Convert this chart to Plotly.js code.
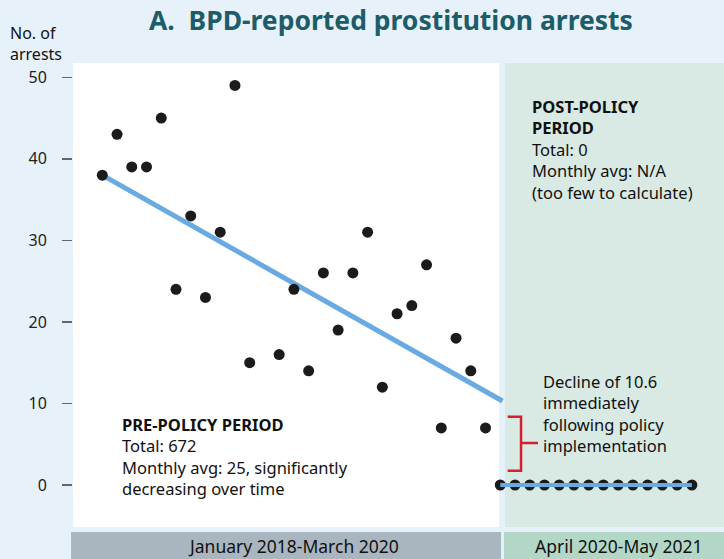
<!DOCTYPE html>
<html>
<head>
<meta charset="utf-8">
<script src="https://cdn.plot.ly/plotly-3.0.1.min.js"></script>
<style>html,body{margin:0;padding:0;background:#e7f1fa;}#chart{width:724px;height:559px;}</style>
</head>
<body>
<div id="chart"></div>
<script>
// Month index 0 = January 2018
const preMonths = [0,1,2,3,4,5,6,7,8,9,10,11,12,13,14,15,16,17,18,19,20,21,22,23,24,25,26];
const preArrests = [38,43,39,39,45,24,33,23,31,49,15,null,16,24,14,26,19,26,31,12,21,22,27,7,18,14,7];
const postMonths = [27,28,29,30,31,32,33,34,35,36,37,38,39,40];
const postArrests = [0,0,0,0,0,0,0,0,0,0,0,0,0,0];
const trendMonths = [0, 27.15];
const trendValues = [38.0, 10.3];
const postTrendMonths = [27, 40];
const postTrendValues = [0, 0];
const yTicks = [0,10,20,30,40,50];
const periodLabels = ["January 2018-March 2020", "April 2020-May 2021"];

const bodyFont = "Noto Sans, sans-serif";
const tickFont = "Noto Sans, sans-serif";
const labelFont = "Noto Sans, sans-serif";

const traces = [
  {x: trendMonths, y: trendValues, mode: 'lines', line: {color: '#6aaae3', width: 5}, hoverinfo: 'skip'},
  {x: preMonths, y: preArrests, mode: 'markers', marker: {color: '#1b1b1b', size: 11}},
  {x: postMonths, y: postArrests, mode: 'markers', marker: {color: '#1b1b1b', size: 11}},
  {x: postTrendMonths, y: postTrendValues, mode: 'lines', line: {color: '#6aaae3', width: 4}}
];

const layout = {
  width: 724, height: 559,
  margin: {l: 73, r: 0, t: 63, b: 32},
  paper_bgcolor: '#e7f1fa',
  plot_bgcolor: '#e7f1fa',
  showlegend: false,
  xaxis: {range: [-1.988, 42.18], visible: false, fixedrange: true},
  yaxis: {
    range: [-5.15, 51.75], tickvals: yTicks, ticks: 'outside', ticklen: 10, tickwidth: 1.5,
    tickcolor: '#666', showgrid: false, zeroline: false, showline: false,
    ticklabelstandoff: 12,
    tickfont: {family: tickFont, size: 16, color: '#222'}
  },
  shapes: [
    {type: 'rect', xref: 'paper', yref: 'paper', x0: 0, x1: 0.6544, y0: 0, y1: 1, fillcolor: '#ffffff', line: {width: 0}, layer: 'below'},
    {type: 'rect', xref: 'paper', yref: 'paper', x0: 0.6636, x1: 1, y0: 0, y1: 1, fillcolor: '#d9e9e3', line: {width: 0}, layer: 'below'},
    {type: 'rect', xref: 'paper', yref: 'paper', x0: -0.003, x1: 0.6575, y0: -0.0108, y1: -0.07, fillcolor: '#a9b6bf', line: {width: 0}},
    {type: 'rect', xref: 'paper', yref: 'paper', x0: 0.6621, x1: 1, y0: -0.0108, y1: -0.07, fillcolor: '#b3d7c7', line: {width: 0}},
    {type: 'path', xref: 'x', yref: 'y', path: 'M 27.5 8.38 L 28.41 8.38 L 28.41 1.75 L 27.5 1.75 M 28.41 5.15 L 29.56 5.15', line: {color: '#d4212f', width: 2.5}}
  ],
  annotations: [
    {xref: 'paper', yref: 'paper', x: 0.489, y: 1.0927, xanchor: 'center', yanchor: 'middle', showarrow: false,
     text: '<b>A.  BPD-reported prostitution arrests</b>', font: {family: labelFont, size: 26.5, color: '#1d5c69'}},
    {xref: 'paper', yref: 'paper', x: -0.1, y: 1.043, xanchor: 'left', yanchor: 'middle', align: 'left', showarrow: false,
     text: 'No. of<br>arrests', font: {family: labelFont, size: 16, color: '#111'}},
    {xref: 'paper', yref: 'paper', x: 0.0722, y: 0.249, xanchor: 'left', yanchor: 'top', align: 'left', showarrow: false,
     text: '<b>PRE-POLICY PERIOD</b><br>Total: 672<br>Monthly avg: 25, significantly<br>decreasing over time', font: {family: bodyFont, size: 16.5, color: '#111'}},
    {xref: 'paper', yref: 'paper', x: 0.702, y: 0.9364, xanchor: 'left', yanchor: 'top', align: 'left', showarrow: false,
     text: '<b>POST-POLICY<br>PERIOD</b><br>Total: 0<br>Monthly avg: N/A<br>(too few to calculate)', font: {family: bodyFont, size: 16.5, color: '#111'}},
    {xref: 'paper', yref: 'paper', x: 0.719, y: 0.3416, xanchor: 'left', yanchor: 'top', align: 'left', showarrow: false,
     text: 'Decline of 10.6<br>immediately<br>following policy<br>implementation', font: {family: bodyFont, size: 16.5, color: '#111'}},
    {xref: 'paper', yref: 'paper', x: 0.338, y: -0.0405, xanchor: 'center', yanchor: 'middle', showarrow: false,
     text: periodLabels[0], font: {family: labelFont, size: 17.5, color: '#111'}},
    {xref: 'paper', yref: 'paper', x: 0.8387, y: -0.0405, xanchor: 'center', yanchor: 'middle', showarrow: false,
     text: periodLabels[1], font: {family: labelFont, size: 17.5, color: '#111'}}
  ]
};

Plotly.newPlot('chart', traces, layout, {displayModeBar: false, staticPlot: true});
</script>
</body>
</html>
